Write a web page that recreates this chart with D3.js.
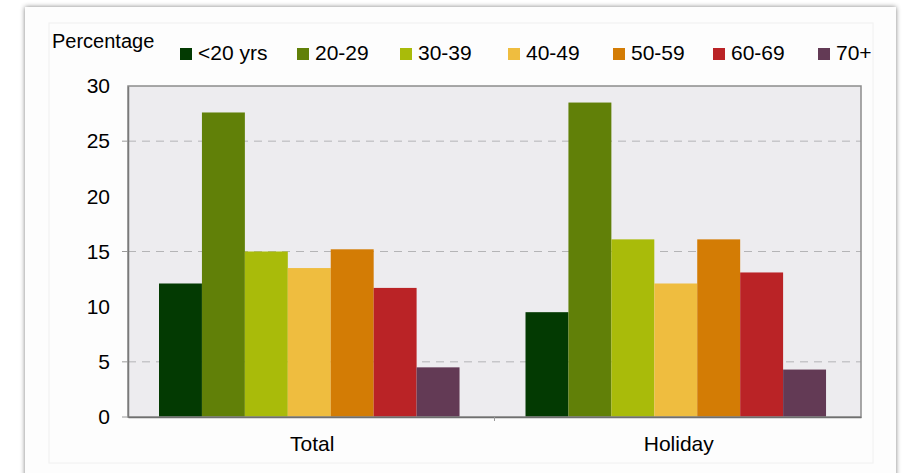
<!DOCTYPE html>
<html>
<head>
<meta charset="utf-8">
<script src="https://cdn.jsdelivr.net/npm/d3@7"></script>
<style>
  html, body { margin: 0; padding: 0; background: #ffffff; }
  svg { display: block; font-family: "Liberation Sans", Arial, sans-serif; }
</style>
</head>
<body>
<svg id="chart" width="904" height="473"></svg>
<script>
// Share of travellers by age band, for all trips and for holiday trips
const categories = ["Total", "Holiday"];
const ageGroups = ["<20 yrs", "20-29", "30-39", "40-49", "50-59", "60-69", "70+"];
const totalValues = [12.1, 27.6, 15.0, 13.5, 15.2, 11.7, 4.5];
const holidayValues = [9.5, 28.5, 16.1, 12.1, 16.1, 13.1, 4.3];
const groupColors = ["#033a02", "#618008", "#a9bb0a", "#efbd3f", "#d37c05", "#ba2326", "#633a55"];
const yTicks = [0, 5, 10, 15, 20, 25, 30];
const gridValues = [5, 15, 25];
const yLabel = "Percentage";

const seriesByCategory = { "Total": totalValues, "Holiday": holidayValues };

const svg = d3.select("#chart");
const W = 904, H = 473;
const plot = { left: 128, top: 86, right: 861, bottom: 417 };
const legendX = [180, 297, 400, 508, 613, 713, 818];
const fontSize = 21;

// card with soft side shadows
const defs = svg.append("defs");
const f = defs.append("filter").attr("id", "shadow")
  .attr("x", "-5%").attr("y", "-5%").attr("width", "110%").attr("height", "110%");
f.append("feGaussianBlur").attr("in", "SourceAlpha").attr("stdDeviation", 2.5).attr("result", "b");
f.append("feFlood").attr("flood-color", "#000").attr("flood-opacity", 0.5);
f.append("feComposite").attr("in2", "b").attr("operator", "in").attr("result", "s");
const m = f.append("feMerge");
m.append("feMergeNode").attr("in", "s");
m.append("feMergeNode").attr("in", "SourceGraphic");

svg.append("rect").attr("x", 0).attr("y", 0).attr("width", W).attr("height", H).attr("fill", "#ffffff");
svg.append("rect").attr("x", 25).attr("y", 7).attr("width", 871).attr("height", 490)
  .attr("fill", "#fdfdfd").attr("filter", "url(#shadow)");
svg.append("rect").attr("x", 49).attr("y", 23).attr("width", 824).attr("height", 440)
  .attr("fill", "none").attr("stroke", "#f0f0f0");

// scales
const x0 = d3.scaleBand().domain(categories)
  .range([plot.left, plot.right]).paddingInner(0.18).paddingOuter(0.09).align(0.47);
const x1 = d3.scaleBand().domain(ageGroups).range([0, x0.bandwidth()]).padding(0);
const y = d3.scaleLinear().domain([0, 30]).range([plot.bottom, plot.top]);
const color = d3.scaleOrdinal().domain(ageGroups).range(groupColors);

// plot background
svg.append("rect")
  .attr("x", plot.left).attr("y", plot.top)
  .attr("width", plot.right - plot.left).attr("height", plot.bottom - plot.top)
  .attr("fill", "#edecef");

// dashed gridlines
svg.append("g").selectAll("line").data(gridValues).join("line")
  .attr("x1", plot.left).attr("x2", plot.right)
  .attr("y1", d => y(d)).attr("y2", d => y(d))
  .attr("stroke", "#b4b4b6").attr("stroke-width", 1)
  .attr("stroke-dasharray", "8,6");

// bars
const groups = svg.append("g").selectAll("g").data(categories).join("g")
  .attr("transform", c => `translate(${x0(c)},0)`);
groups.selectAll("rect")
  .data(c => ageGroups.map((a, i) => ({ age: a, value: seriesByCategory[c][i] })))
  .join("rect")
  .attr("x", d => x1(d.age))
  .attr("width", x1.bandwidth())
  .attr("y", d => y(d.value))
  .attr("height", d => y(0) - y(d.value))
  .attr("fill", d => color(d.age));

// plot frame
svg.append("rect")
  .attr("x", plot.left).attr("y", plot.top)
  .attr("width", plot.right - plot.left).attr("height", plot.bottom - plot.top)
  .attr("fill", "none").attr("stroke", "#8c8c8c").attr("stroke-width", 1.5);

// y axis
const yAxis = svg.append("g").attr("transform", `translate(${plot.left},0)`)
  .call(d3.axisLeft(y).tickValues(yTicks).tickSize(0).tickPadding(18));
yAxis.select(".domain").attr("stroke", "#7a7a7a").attr("stroke-width", 1.5);
yAxis.selectAll("text").attr("font-size", fontSize).attr("fill", "#000")
  .attr("font-family", "Liberation Sans, Arial, sans-serif");
// outward tick marks where gridlines sit
svg.append("g").selectAll("line").data([0].concat(gridValues)).join("line")
  .attr("x1", plot.left - 6).attr("x2", plot.left)
  .attr("y1", d => y(d)).attr("y2", d => y(d))
  .attr("stroke", "#9a9a9a").attr("stroke-width", 1);

// x axis
const xAxis = svg.append("g").attr("transform", `translate(0,${plot.bottom})`)
  .call(d3.axisBottom(x0).tickSize(0).tickPadding(19));
xAxis.select(".domain").attr("stroke", "#6f6f6f").attr("stroke-width", 1.5);
xAxis.selectAll("text").attr("font-size", fontSize).attr("fill", "#000").attr("dx", 3)
  .attr("font-family", "Liberation Sans, Arial, sans-serif");
// divider tick between categories
svg.append("line")
  .attr("x1", (plot.left + plot.right) / 2).attr("x2", (plot.left + plot.right) / 2)
  .attr("y1", plot.bottom).attr("y2", plot.bottom + 4)
  .attr("stroke", "#9a9a9a");

// y axis title
svg.append("text").attr("x", 52).attr("y", 48)
  .attr("font-size", 20).attr("fill", "#000").text(yLabel);

// legend
const legend = svg.append("g");
ageGroups.forEach((a, i) => {
  const item = legend.append("g").attr("transform", `translate(${legendX[i]},0)`);
  item.append("rect").attr("x", 0).attr("y", 48).attr("width", 12).attr("height", 12)
    .attr("fill", color(a));
  item.append("text").attr("x", 18).attr("y", 60)
    .attr("font-size", fontSize).attr("fill", "#000").text(a);
});
</script>
</body>
</html>
